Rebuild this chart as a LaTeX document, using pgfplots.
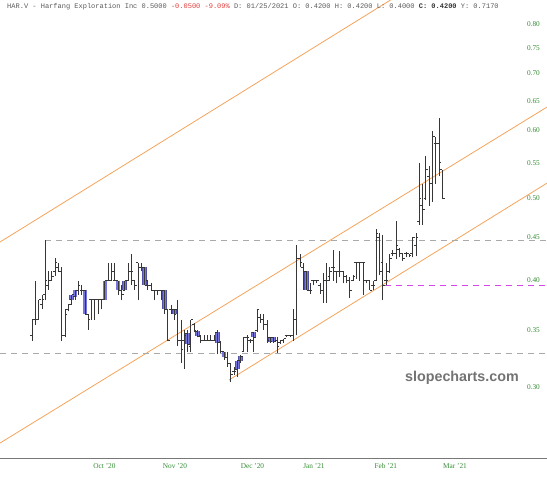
\documentclass[border=0pt]{standalone}
\usepackage{pgfplots}
\usepackage{pgfplotstable}
\pgfplotsset{compat=1.18}
\usepackage{fontspec}
\setmainfont{Liberation Serif}
\newfontfamily\monof{Liberation Mono}
\newfontfamily\sansf{Liberation Sans}
\definecolor{tickgreen}{RGB}{50,140,50}
\definecolor{chanorange}{RGB}{245,163,92}
\definecolor{bluefill}{RGB}{118,118,222}
\definecolor{blueedge}{RGB}{80,80,170}
\definecolor{barcol}{RGB}{55,55,55}
\definecolor{dashgray}{RGB}{170,170,170}
\definecolor{supmag}{RGB}{214,70,232}
\definecolor{titlegray}{RGB}{90,90,90}
\definecolor{titlered}{RGB}{225,60,60}
\definecolor{wmgray}{RGB}{115,115,115}

\pgfplotstableread{
i o h l c b
0 0.345 0.36 0.34 0.36 0
1 0.36 0.40 0.355 0.36 0
2 0.36 0.38 0.36 0.38 0
3 0.375 0.385 0.37 0.38 0
4 0.385 0.446 0.38 0.40 0
5 0.395 0.41 0.39 0.40 0
6 0.40 0.41 0.40 0.405 0
7 0.41 0.425 0.405 0.42 0
8 0.415 0.42 0.41 0.41 0
9 0.41 0.415 0.34 0.345 0
10 0.345 0.37 0.343 0.365 0
11 0.37 0.375 0.368 0.375 0
12 0.38 0.385 0.375 0.385 1
13 0.383 0.39 0.38 0.39 1
14 0.39 0.40 0.385 0.395 0
15 0.39 0.395 0.385 0.39 0
16 0.39 0.39 0.365 0.365 1
17 0.365 0.365 0.35 0.36 0
18 0.38 0.38 0.36 0.38 0
19 0.38 0.38 0.36 0.38 0
20 0.38 0.38 0.365 0.38 0
21 0.38 0.38 0.37 0.38 0
22 0.38 0.40 0.38 0.40 1
23 0.40 0.42 0.40 0.40 0
24 0.40 0.42 0.40 0.41 0
25 0.40 0.42 0.40 0.40 0
26 0.40 0.40 0.385 0.39 1
27 0.39 0.395 0.38 0.385 0
28 0.39 0.40 0.39 0.40 1
29 0.40 0.42 0.40 0.41 0
30 0.41 0.43 0.395 0.41 0
31 0.40 0.40 0.39 0.395 0
32 0.42 0.42 0.38 0.415 0
33 0.415 0.42 0.41 0.415 0
34 0.415 0.415 0.395 0.395 1
35 0.40 0.40 0.39 0.395 0
36 0.395 0.397 0.389 0.39 0
37 0.39 0.39 0.38 0.39 0
38 0.39 0.39 0.385 0.39 0
39 0.39 0.39 0.38 0.39 0
40 0.39 0.39 0.365 0.37 1
41 0.37 0.37 0.34 0.34 0
42 0.37 0.375 0.365 0.37 0
43 0.37 0.37 0.36 0.365 1
44 0.37 0.38 0.335 0.34 0
45 0.34 0.36 0.32 0.332 0
46 0.34 0.35 0.315 0.345 0
47 0.347 0.35 0.33 0.337 1
48 0.335 0.36 0.33 0.36 0
49 0.355 0.357 0.348 0.35 0
50 0.349 0.35 0.343 0.344 1
51 0.345 0.345 0.338 0.34 0
52 0.34 0.345 0.34 0.34 0
53 0.34 0.345 0.34 0.34 0
54 0.34 0.345 0.34 0.34 0
55 0.34 0.345 0.34 0.34 0
56 0.348 0.35 0.328 0.338 1
57 0.338 0.34 0.329 0.33 0
58 0.33 0.33 0.323 0.325 1
59 0.325 0.33 0.317 0.32 0
60 0.32 0.32 0.304 0.31 0
61 0.313 0.317 0.31 0.313 0
62 0.315 0.323 0.308 0.322 1
63 0.322 0.327 0.32 0.326 1
64 0.33 0.343 0.33 0.343 0
65 0.343 0.345 0.33 0.343 0
66 0.34 0.342 0.338 0.34 0
67 0.348 0.348 0.33 0.343 1
68 0.35 0.37 0.348 0.37 0
69 0.362 0.365 0.357 0.36 0
70 0.36 0.365 0.35 0.355 0
71 0.355 0.36 0.338 0.34 0
72 0.343 0.343 0.338 0.339 1
73 0.343 0.343 0.338 0.339 1
74 0.34 0.343 0.329 0.335 0
75 0.338 0.341 0.337 0.34 0
76 0.34 0.342 0.338 0.342 0
77 0.345 0.345 0.343 0.345 0
78 0.345 0.345 0.343 0.345 0
79 0.345 0.37 0.34 0.36 0
80 0.36 0.44 0.345 0.425 0
81 0.425 0.43 0.415 0.42 0
82 0.415 0.42 0.39 0.41 0
83 0.41 0.41 0.39 0.39 1
84 0.39 0.397 0.386 0.39 0
85 0.40 0.40 0.395 0.40 0
86 0.40 0.40 0.397 0.40 0
87 0.395 0.397 0.386 0.39 0
88 0.39 0.408 0.377 0.40 0
89 0.40 0.42 0.377 0.40 0
90 0.405 0.415 0.40 0.41 0
91 0.415 0.435 0.40 0.415 0
92 0.41 0.41 0.397 0.41 0
93 0.41 0.433 0.404 0.41 0
94 0.41 0.41 0.397 0.405 0
95 0.405 0.406 0.397 0.40 0
96 0.40 0.404 0.382 0.39 0
97 0.40 0.406 0.40 0.405 0
98 0.42 0.42 0.402 0.42 0
99 0.42 0.42 0.40 0.42 0
100 0.42 0.42 0.385 0.42 0
101 0.40 0.40 0.397 0.40 0
102 0.40 0.40 0.39 0.39 0
103 0.395 0.40 0.39 0.395 0
104 0.40 0.46 0.40 0.455 0
105 0.45 0.455 0.406 0.41 0
106 0.42 0.452 0.38 0.395 0
107 0.40 0.42 0.395 0.40 0
108 0.41 0.43 0.408 0.425 0
109 0.43 0.435 0.427 0.43 0
110 0.43 0.47 0.424 0.44 0
111 0.435 0.437 0.426 0.43 0
112 0.43 0.43 0.422 0.425 0
113 0.43 0.432 0.426 0.43 0
114 0.43 0.43 0.426 0.428 0
115 0.43 0.45 0.426 0.45 0
116 0.44 0.455 0.427 0.45 0
117 0.47 0.55 0.465 0.50 0
118 0.49 0.52 0.465 0.485 0
119 0.50 0.56 0.497 0.54 0
120 0.53 0.545 0.49 0.52 0
121 0.52 0.60 0.495 0.59 0
122 0.58 0.59 0.52 0.58 0
123 0.58 0.62 0.53 0.55 0
124 0.54 0.54 0.50 0.50 0
}\ohlc

\pgfplotstablegetrowsof{\ohlc}
\pgfmathtruncatemacro\lastrow{\pgfplotsretval-1}
\gdef\hlpath{}\gdef\opath{}\gdef\cpath{}\gdef\bpath{}
\pgfplotsforeachungrouped \r in {0,...,\lastrow}{%
  \pgfplotstablegetelem{\r}{i}\of\ohlc\let\bx\pgfplotsretval
  \pgfplotstablegetelem{\r}{o}\of\ohlc\let\vo\pgfplotsretval
  \pgfplotstablegetelem{\r}{h}\of\ohlc\let\vh\pgfplotsretval
  \pgfplotstablegetelem{\r}{l}\of\ohlc\let\vl\pgfplotsretval
  \pgfplotstablegetelem{\r}{c}\of\ohlc\let\vc\pgfplotsretval
  \pgfplotstablegetelem{\r}{b}\of\ohlc\let\vb\pgfplotsretval
  \pgfmathsetmacro\xa{\bx-0.65}%
  \pgfmathsetmacro\xb{\bx+0.65}%
  \xdef\hlpath{\hlpath(\bx,\vl)(\bx,\vh)(\bx,nan)}%
  \xdef\opath{\opath(\xa,\vo)(\bx,\vo)(\bx,nan)}%
  \xdef\cpath{\cpath(\bx,\vc)(\xb,\vc)(\bx,nan)}%
  \ifnum\vb=1 \xdef\bpath{\bpath(\bx,\vo)(\bx,\vc)(\bx,nan)}\fi
}

\begin{document}
\begin{tikzpicture}
\useasboundingbox (0,0) rectangle (547pt,480pt);
\begin{axis}[
  at={(0pt,22pt)}, anchor=south west,
  scale only axis, width=547pt, height=458pt,
  ymode=log,
  xmin=-9.67, xmax=155.6, ymin=0.2476, ymax=0.854,
  axis x line*=bottom, axis y line*=right,
  x axis line style={draw={rgb,255:red,120;green,120;blue,120}, line width=0.9pt},
  y axis line style={draw=none},
  major tick length=0pt, minor tick length=0pt,
  ytick={0.30,0.35,0.40,0.45,0.50,0.55,0.60,0.65,0.70,0.75,0.80},
  yticklabels={0.30,0.35,0.40,0.45,0.50,0.55,0.60,0.65,0.70,0.75,0.80},
  xtick={21.9,43.2,66.6,85.2,106.9,127.8},
  xticklabels={Oct '20,Nov '20,Dec '20,Jan '21,Feb '21,Mar '21},
  ticklabel style={font=\fontsize{7.3}{8}\selectfont, text=tickgreen},
  yticklabel style={anchor=east, xshift=-7pt, inner sep=0pt},
  xticklabel style={yshift=-2pt},
  clip mode=individual,
  unbounded coords=jump,
]
% channel lines
\addplot[chanorange, line width=0.8pt, forget plot] coordinates {(-9.67,0.4439) (155.6,1.110)};
\addplot[chanorange, line width=0.8pt, forget plot] coordinates {(-9.67,0.2578) (155.6,0.6394)};
\addplot[chanorange, line width=0.8pt, forget plot] coordinates {(59.5,0.3057) (155.6,0.5206)};
% horizontal levels
\addplot[draw=dashgray, line width=0.9pt, dash pattern=on 6pt off 5pt, forget plot] coordinates {(4,0.446) (155.6,0.446)};
\addplot[draw=dashgray, line width=0.9pt, dash pattern=on 6pt off 5pt, forget plot] coordinates {(-9.67,0.3288) (155.6,0.3288)};
\addplot[draw=supmag, line width=1.1pt, dash pattern=on 6pt off 5pt, forget plot] coordinates {(106.6,0.3946) (155.6,0.3946)};
% bars
\edef\temp{\noexpand\addplot[blueedge, line width=4.6pt, forget plot] coordinates {\bpath};}\temp
\edef\temp{\noexpand\addplot[bluefill, line width=3.4pt, forget plot] coordinates {\bpath};}\temp
\edef\temp{\noexpand\addplot[barcol, line width=0.8pt, forget plot] coordinates {\hlpath};}\temp
\edef\temp{\noexpand\addplot[barcol, line width=0.8pt, forget plot] coordinates {\opath};}\temp
\edef\temp{\noexpand\addplot[barcol, line width=0.8pt, forget plot] coordinates {\cpath};}\temp
% texts
\node[anchor=base west, inner sep=0pt, font=\monof\fontsize{7}{8}\selectfont, text=titlegray]
  at (rel axis cs:0.0128,0.9825)
  {HAR.V - Harfang Exploration Inc 0.5000 \textcolor{titlered}{-0.0500 -9.09\%} D: 01/25/2021 O: 0.4200 H: 0.4200 L: 0.4000 \textbf{\textcolor{black!80}{C: 0.4200}} Y: 0.7170};
\node[anchor=base east, inner sep=0pt, font=\sansf\bfseries\fontsize{14.3}{16}\selectfont, text=wmgray]
  at (rel axis cs:0.9488,0.1681) {slopecharts.com};
\end{axis}
\end{tikzpicture}
\end{document}
